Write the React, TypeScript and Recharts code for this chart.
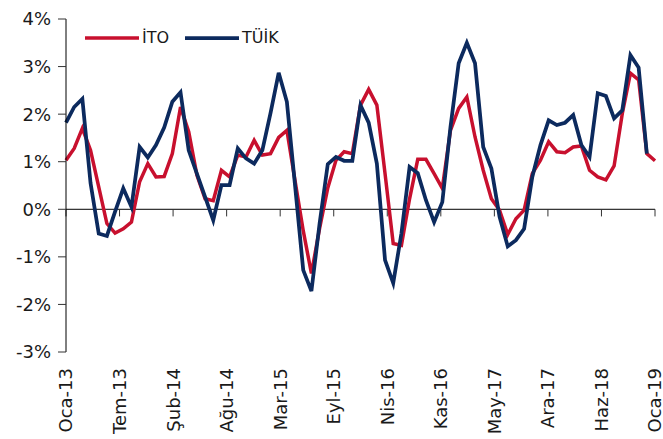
import { LineChart, Line, XAxis, YAxis, ReferenceLine } from "recharts";

// monthly, Oca-13 .. Oca-19
const itoValues = [
  1.03, 1.28, 1.7, 1.24, 0.47, -0.3, -0.5, -0.41, -0.27, 0.58, 0.96, 0.68,
  0.69, 1.17, 2.15, 1.63, 0.72, 0.22, 0.18, 0.82, 0.68, 1.14, 1.1, 1.45,
  1.14, 1.17, 1.51, 1.66, 0.6, -0.45, -1.35, -0.4, 0.45, 1.03, 1.21, 1.17,
  2.19, 2.52, 2.19, 0.75, -0.72, -0.76, 0.22, 1.05, 1.05, 0.75, 0.44, 1.66,
  2.12, 2.36, 1.52, 0.82, 0.22, -0.02, -0.53, -0.2, -0.02, 0.75, 1.03, 1.42,
  1.21, 1.19, 1.31, 1.33, 0.82, 0.68, 0.62, 0.91, 2.01, 2.86, 2.72, 1.17,
  1.02,
];

// TÜİK ends one month earlier (Ara-18)
const tuikValues = [
  1.82, 2.15, 2.32, 0.55, -0.51, -0.56, -0.05, 0.44, 0.05, 1.31, 1.09, 1.35,
  1.72, 2.26, 2.46, 1.24, 0.75, 0.26, -0.23, 0.51, 0.51, 1.28, 1.07, 0.96,
  1.24, 2.02, 2.87, 2.26, 0.5, -1.28, -1.72, -0.3, 0.95, 1.1, 1.02, 1.02,
  2.19, 1.82, 0.96, -1.07, -1.55, -0.51, 0.89, 0.76, 0.19, -0.27, 0.15, 1.73,
  3.07, 3.5, 3.07, 1.31, 0.86, -0.16, -0.78, -0.65, -0.41, 0.68, 1.35, 1.87,
  1.77, 1.82, 1.98, 1.35, 1.1, 2.44, 2.38, 1.91, 2.08, 3.24, 2.98, 1.17,
];

const tickLabels = [
  "Oca-13", "Tem-13", "Şub-14", "Ağu-14", "Mar-15", "Eyl-15",
  "Nis-16", "Kas-16", "May-17", "Ara-17", "Haz-18", "Oca-19",
];

const yTicks = [-3, -2, -1, 0, 1, 2, 3, 4];

const RED = "#C8102E";
const NAVY = "#0C2A5E";
const FONT = "'DejaVu Sans', Verdana, sans-serif";

const lastIndex = itoValues.length - 1;
const data = itoValues.map((v, i) => ({ i, ito: v, tuik: tuikValues[i] }));
// Excel date axis: evenly spaced ticks, labelled with the nearest month
const xTicks = tickLabels.map((_, k) => (k * lastIndex) / (tickLabels.length - 1));

const XTick = ({ x, y, payload }: any) => {
  const k = Math.round((payload.value * (tickLabels.length - 1)) / lastIndex);
  const ty = y + 16;
  return (
    <text
      x={x}
      y={ty}
      transform={`rotate(-90 ${x} ${ty})`}
      textAnchor="end"
      dy="0.36em"
      fontSize={18}
      fill="#1a1a1a"
      fontFamily={FONT}
    >
      {tickLabels[k]}
    </text>
  );
};

const series = [
  { name: "İTO", color: RED, w: 3.5 },
  { name: "TÜİK", color: NAVY, w: 3.75 },
];

const ChartLegend = () => (
  <div
    style={{
      position: "absolute",
      top: 28,
      left: 85,
      display: "flex",
      alignItems: "center",
      fontFamily: FONT,
      fontSize: 16,
      color: "#1a1a1a",
    }}
  >
    {series.map((it) => (
      <div key={it.name} style={{ display: "flex", alignItems: "center", marginRight: 16 }}>
        <svg width={54} height={6} style={{ display: "block" }}>
          <line x1={0} y1={3} x2={54} y2={3} stroke={it.color} strokeWidth={it.w} />
        </svg>
        <span style={{ marginLeft: 3, lineHeight: "20px" }}>{it.name}</span>
      </div>
    ))}
  </div>
);

export default function App() {
  return (
    <div style={{ position: "absolute", left: 0, top: 0, width: 663, height: 439, background: "#fff" }}>
      <LineChart
        width={663}
        height={439}
        data={data}
        margin={{ top: 19, right: 8, bottom: 0, left: 0 }}
        style={{ fontFamily: FONT }}
      >
        <XAxis
          dataKey="i"
          type="number"
          domain={[0, lastIndex]}
          ticks={xTicks}
          interval={0}
          height={87}
          axisLine={false}
          tickLine={false}
          tickSize={0}
          tickMargin={0}
          tick={<XTick />}
        />
        <YAxis
          width={66}
          domain={[-3, 4]}
          ticks={yTicks}
          interval={0}
          allowDataOverflow
          axisLine={{ stroke: "#000", strokeWidth: 1 }}
          tickLine={{ stroke: "#333", strokeWidth: 1 }}
          tickSize={8}
          tickMargin={7}
          tickFormatter={(v) => `${v}%`}
          tick={{ fontSize: 18, fill: "#1a1a1a", fontFamily: FONT }}
        />
        <ReferenceLine y={0} stroke="#000" strokeWidth={1} />
        {xTicks.map((t) => (
          <ReferenceLine
            key={t}
            segment={[{ x: t, y: 0 }, { x: t, y: -0.15 }]}
            stroke="#333"
            strokeWidth={1}
          />
        ))}
        <Line
          type="linear"
          dataKey="ito"
          name="İTO"
          stroke={RED}
          strokeWidth={3.5}
          dot={false}
          activeDot={false}
          isAnimationActive={false}
        />
        <Line
          type="linear"
          dataKey="tuik"
          name="TÜİK"
          stroke={NAVY}
          strokeWidth={3.75}
          dot={false}
          activeDot={false}
          isAnimationActive={false}
        />
      </LineChart>
      <ChartLegend />
    </div>
  );
}
